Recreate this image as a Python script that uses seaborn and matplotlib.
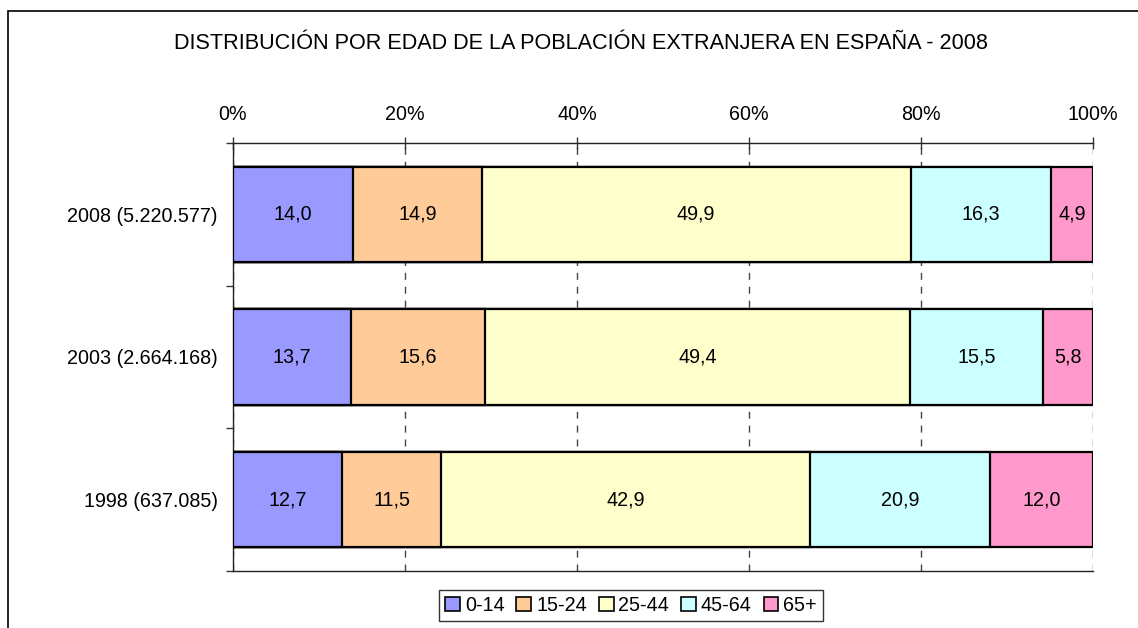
import matplotlib
matplotlib.use("Agg")
import matplotlib.pyplot as plt
from matplotlib.patches import Patch, Rectangle
import numpy as np
import pandas as pd
import seaborn as sns

years = ["2008 (5.220.577)", "2003 (2.664.168)", "1998 (637.085)"]
groups = ["0-14", "15-24", "25-44", "45-64", "65+"]
v_0_14 = [14.0, 13.7, 12.7]
v_15_24 = [14.9, 15.6, 11.5]
v_25_44 = [49.9, 49.4, 42.9]
v_45_64 = [16.3, 15.5, 20.9]
v_65 = [4.9, 5.8, 12.0]
colors = ["#9999FF", "#FFCC99", "#FFFFCC", "#CCFFFF", "#FF99CC"]
xticks = [0, 20, 40, 60, 80, 100]
title = "DISTRIBUCIÓN POR EDAD DE LA POBLACIÓN EXTRANJERA EN ESPAÑA - 2008"

sns.set_theme(style="white")
plt.rcParams["font.family"] = ["Liberation Sans", "DejaVu Sans"]
plt.rcParams["text.color"] = "black"
plt.rcParams["xtick.color"] = "black"
plt.rcParams["ytick.color"] = "black"

df = pd.DataFrame({"year": years, "0-14": v_0_14, "15-24": v_15_24,
                   "25-44": v_25_44, "45-64": v_45_64, "65+": v_65})
cum = df[groups].cumsum(axis=1)

fig = plt.figure(figsize=(11.38, 6.28), dpi=100)
ax = fig.add_axes([0.2047, 0.0908, 0.7558, 0.6815])

# draw widest layer first so each later layer covers the left part
for g, c in reversed(list(zip(groups, colors))):
    sns.barplot(x=cum[g], y=df["year"], orient="h", color=c, saturation=1,
                width=0.67, edgecolor="black", linewidth=1.6, errorbar=None,
                ax=ax, zorder=3)

fs = 14.2
for i in range(len(years)):
    for g in groups:
        center = cum.loc[i, g] - df.loc[i, g] / 2
        ax.text(center, i, f"{df.loc[i, g]:.1f}".replace(".", ","),
                ha="center", va="center", fontsize=fs, zorder=4)

ax.set_xlim(0, 100)
ax.set_ylim(2.5, -0.5)
ax.xaxis.tick_top()
ax.set_xticks(xticks)
ax.set_xticklabels([f"{t}%" for t in xticks], fontsize=fs)
ax.tick_params(axis="x", direction="inout", length=8, width=1, color="#333333",
               pad=10, top=True, bottom=False)
ax.set_yticks(range(len(years)))
ax.set_yticklabels(years, fontsize=fs)
ax.set_yticks([-0.5, 0.5, 1.5, 2.5], minor=True)
ax.tick_params(axis="y", which="major", length=0, pad=11, left=True)
ax.tick_params(axis="y", which="minor", direction="out", length=5, width=1,
               color="#333333", left=True)
ax.set_xlabel("")
ax.set_ylabel("")

ax.xaxis.grid(True, linestyle=(0, (5, 5)), color="#444444", linewidth=1)
ax.set_axisbelow(True)
ax.yaxis.grid(False)
for s in ["left", "top", "bottom"]:
    ax.spines[s].set_visible(True)
    ax.spines[s].set_color("#222222")
    ax.spines[s].set_linewidth(1)
ax.spines["right"].set_visible(False)

fig.text(0.5105, 0.9315, title, ha="center", va="center", fontsize=15.6)

handles = [Patch(facecolor=c, edgecolor="black", linewidth=1.2) for c in colors]
leg = fig.legend(handles, groups, loc="center", bbox_to_anchor=(0.5545, 0.036),
                 ncol=5, fontsize=fs, frameon=True, fancybox=False,
                 handlelength=0.75, handleheight=0.75, handletextpad=0.25,
                 columnspacing=0.6, borderpad=0.3, borderaxespad=0)
leg.get_frame().set_edgecolor("black")
leg.get_frame().set_linewidth(1)

fig.patches.append(Rectangle((8 / 1138, -0.1), 1.2, 1.1 - 11 / 628 + 0.0,
                             transform=fig.transFigure, fill=False,
                             edgecolor="black", linewidth=1.2))

fig.savefig("out.png", dpi=100)
